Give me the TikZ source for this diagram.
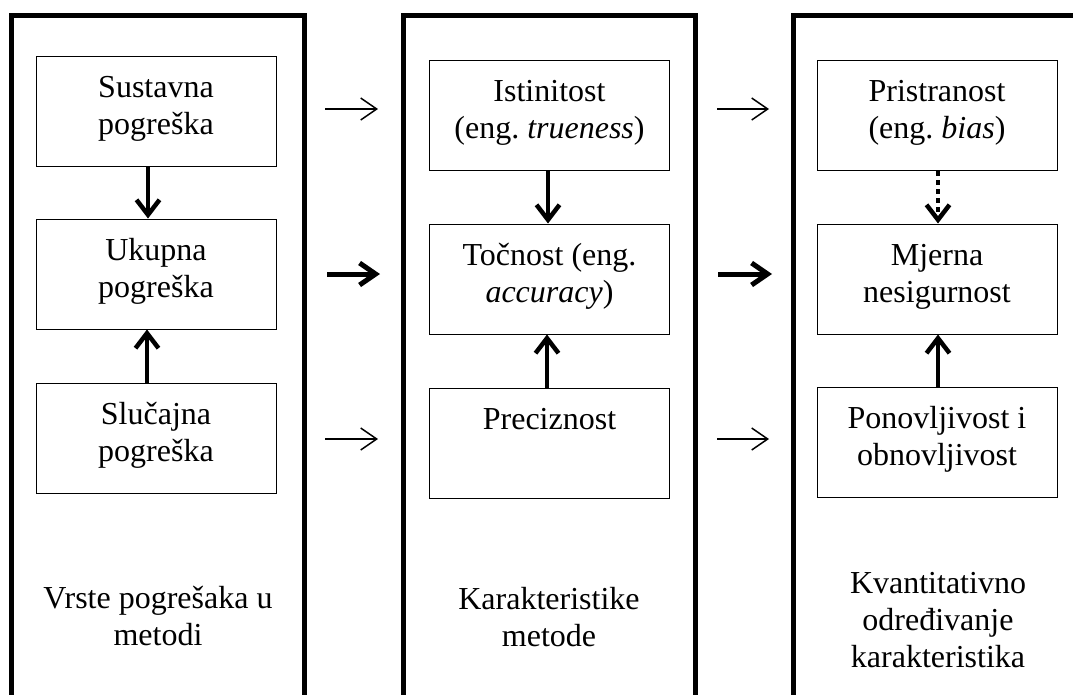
\documentclass[tikz,border=0pt]{standalone}
\usepackage{fontspec}
\setmainfont{Liberation Serif}
\usetikzlibrary{arrows.meta}
\newcommand{\mylines}[1]{\begin{tabular}[t]{@{}c@{}}#1\end{tabular}}
\tikzset{
  bigfont/.style={font=\fontsize{32}{37}\selectfont},
  frameline/.style={line width=5pt, line join=miter, line cap=butt},
  itembox/.style={draw, line width=1pt, bigfont, minimum width=240pt,
    inner xsep=4pt, inner ysep=15pt, text height=26pt, text depth=54pt},
  colabel/.style={bigfont, inner sep=0pt, anchor=base},
  varrow/.style={line width=4.5pt, -{Straight Barb[length=15pt,width=23pt]}},
  dotarrow/.style={line width=4.5pt, dash pattern=on 5pt off 4pt, -{Straight Barb[length=15pt,width=23pt]}},
  thinarrow/.style={line width=1.5pt, -{Straight Barb[length=16pt,width=22pt]}},
  thickarrow/.style={line width=5pt, -{Straight Barb[length=16pt,width=22pt]}}
}
\begin{document}
\frenchspacing
\begin{tikzpicture}[x=1pt,y=-1pt]
\useasboundingbox (0,0) rectangle (1073,694);
\clip (0,0) rectangle (1073,694);
\fill[white] (0,0) rectangle (1073,694);

% column frames
\draw[frameline] (11.5,710) -- (11.5,15.5) -- (304.5,15.5) -- (304.5,710);
\draw[frameline] (403,710) -- (403,15.5) -- (695,15.5) -- (695,710);
\draw[frameline] (793.5,710) -- (793.5,15.5) -- (1090,15.5);

% column 1
\node[itembox] (s1) at (156,111) {\mylines{Sustavna\\pogreška}};
\node[itembox] (u1) at (156,274) {\mylines{Ukupna\\pogreška}};
\node[itembox] (r1) at (156,438) {\mylines{Slučajna\\pogreška}};
\node[colabel] (l1) at (158,608) {\mylines{Vrste pogrešaka u\\metodi}};

% column 2
\node[itembox] (s2) at (549.5,115.5) {\mylines{Istinitost\\(eng.\ \textit{trueness})}};
\node[itembox] (u2) at (549.5,279) {\mylines{Točnost (eng.\\\textit{accuracy})}};
\node[itembox] (r2) at (549.5,443) {\mylines{Preciznost}};
\node[colabel] (l2) at (549,609) {\mylines{Karakteristike\\metode}};

% column 3
\node[itembox] (s3) at (937,115.5) {\mylines{Pristranost\\(eng.\ \textit{bias})}};
\node[itembox] (u3) at (937,279) {\mylines{Mjerna\\nesigurnost}};
\node[itembox] (r3) at (937,442.5) {\mylines{Ponovljivost i\\obnovljivost}};
\node[colabel] (l3) at (938,593) {\mylines{Kvantitativno\\određivanje\\karakteristika}};

% vertical arrows
\draw[varrow] ([xshift=-8pt]s1.south) -- ([xshift=-8pt]u1.north);
\draw[varrow] ([xshift=-9pt]r1.north) -- ([xshift=-9pt]u1.south);
\draw[varrow] ([xshift=-1.5pt]s2.south) -- ([xshift=-1.5pt]u2.north);
\draw[varrow] ([xshift=-2.5pt]r2.north) -- ([xshift=-2.5pt]u2.south);
\draw[dotarrow] ([xshift=1pt]s3.south) -- ([xshift=1pt]u3.north);
\draw[varrow] ([xshift=1pt]r3.north) -- ([xshift=1pt]u3.south);

% horizontal arrows between columns
\coordinate (a1s) at (325,109); \coordinate (a1e) at (378,109);
\coordinate (a2s) at (327,274); \coordinate (a2e) at (380,274);
\coordinate (a3s) at (325,439); \coordinate (a3e) at (378,439);
\coordinate (b1s) at (717,109); \coordinate (b1e) at (769,109);
\coordinate (b2s) at (718,274); \coordinate (b2e) at (772,274);
\coordinate (b3s) at (717,439); \coordinate (b3e) at (769,439);
\draw[thinarrow] (a1s) -- (a1e);
\draw[thickarrow] (a2s) -- (a2e);
\draw[thinarrow] (a3s) -- (a3e);
\draw[thinarrow] (b1s) -- (b1e);
\draw[thickarrow] (b2s) -- (b2e);
\draw[thinarrow] (b3s) -- (b3e);
\end{tikzpicture}
\end{document}
